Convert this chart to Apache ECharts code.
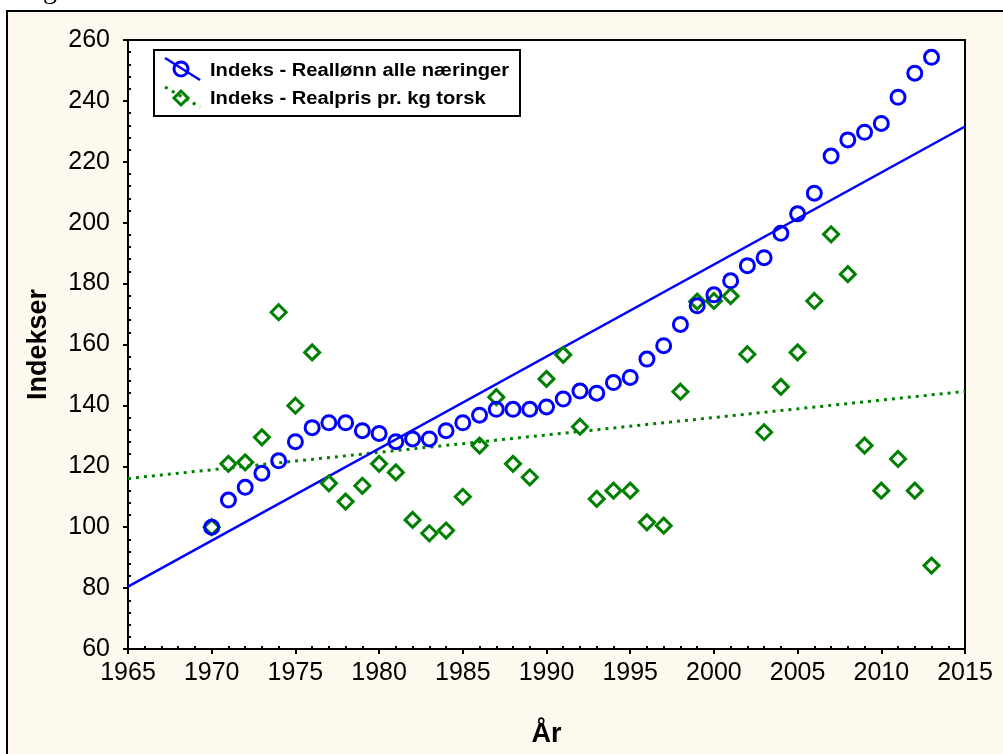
<!DOCTYPE html>
<html><head><meta charset="utf-8">
<script src="https://cdn.jsdelivr.net/npm/echarts@6/dist/echarts.min.js"></script>
<style>
html,body{margin:0;padding:0;background:#fff;overflow:hidden;}
#wrap{position:relative;width:1003px;height:754px;overflow:hidden;}
#frame{position:absolute;left:6px;top:10px;width:1100px;height:900px;border:2px solid #000;background:#FDF9EE;}
#c{position:absolute;left:0;top:0;width:1003px;height:754px;}
</style>
</head><body>
<div id="wrap"><div id="frame"></div><div id="c"></div></div>
<script>
const years = [1970,1971,1972,1973,1974,1975,1976,1977,1978,1979,1980,1981,1982,1983,1984,1985,1986,1987,1988,1989,1990,1991,1992,1993,1994,1995,1996,1997,1998,1999,2000,2001,2002,2003,2004,2005,2006,2007,2008,2009,2010,2011,2012,2013];
const reallonn = [100,108.9,113.1,117.7,121.8,128.1,132.7,134.3,134.3,131.7,130.8,128.1,129,129,131.7,134.3,136.8,138.7,138.7,138.7,139.5,142.1,144.7,144,147.5,149.2,155.2,159.6,166.6,172.7,176.3,180.9,185.9,188.5,196.5,202.9,209.7,221.9,227.2,229.7,232.6,241.2,249.1,254.3];
const torsk = [100,120.8,121.3,129.5,170.6,139.9,157.4,114.4,108.4,113.6,120.8,118,102.4,98,98.9,110,126.8,142.7,120.8,116.4,148.7,156.6,133,109.3,112,112,101.6,100.5,144.5,174.1,174.3,175.9,156.8,131.2,146.1,157.4,174.3,196.2,183.1,126.8,112,122.4,112,87.4];
const trendYears = [1965, 2015];
const trendReallonn = [80.5, 231.6];
const trendTorsk = [116, 144.6];
const seriesNames = ['Indeks - Reallønn alle næringer', 'Indeks - Realpris pr. kg torsk'];
const xName = 'År';
const yName = 'Indekser';

const BLUE = '#0000FF', GREEN = '#008000', FONT = '"Liberation Sans", Arial, sans-serif';
const pairs = (xs, ys) => xs.map((x, i) => [x, ys[i]]);

const chart = echarts.init(document.getElementById('c'), null, {renderer: 'canvas'});
const baseX = {type: 'value', min: 1965, max: 2015, interval: 5, splitLine: {show: false}};
const baseY = {type: 'value', min: 60, max: 260, interval: 20, splitLine: {show: false}};
chart.setOption({
  backgroundColor: 'transparent',
  animation: false,
  grid: {left: 128, top: 40, right: 38, bottom: 105, show: true, backgroundColor: '#fff', borderColor: '#000', borderWidth: 2},
  xAxis: [
    Object.assign({}, baseX, {
      position: 'bottom',
      axisLine: {lineStyle: {color: '#000', width: 2}},
      axisTick: {length: 5, lineStyle: {color: '#000', width: 2}},
      axisLabel: {color: '#000', fontSize: 25, fontFamily: FONT, margin: 12, formatter: v => String(v)},
      name: xName, nameLocation: 'middle', nameGap: 72,
      nameTextStyle: {color: '#000', fontSize: 27, fontWeight: 'bold', fontFamily: FONT}
    }),
    Object.assign({}, baseX, {
      position: 'bottom',
      axisLine: {show: false}, axisLabel: {show: false},
      axisTick: {show: false, inside: true},
      minorTick: {show: true, splitNumber: 5, length: 3, lineStyle: {color: '#000', width: 2}}
    })
  ],
  yAxis: [
    Object.assign({}, baseY, {
      position: 'left',
      axisLine: {lineStyle: {color: '#000', width: 2}},
      axisTick: {length: 5, lineStyle: {color: '#000', width: 2}},
      axisLabel: {color: '#000', fontSize: 25, fontFamily: FONT, margin: 18},
      name: yName, nameLocation: 'middle', nameGap: 76, nameRotate: 90,
      nameTextStyle: {color: '#000', fontSize: 27, fontWeight: 'bold', fontFamily: FONT}
    }),
    Object.assign({}, baseY, {
      position: 'left',
      axisLine: {show: false}, axisLabel: {show: false},
      axisTick: {show: false, inside: true},
      minorTick: {show: true, splitNumber: 5, length: 3, lineStyle: {color: '#000', width: 2}}
    })
  ],
  series: [
    {type: 'line', xAxisIndex: 0, yAxisIndex: 0, data: pairs(trendYears, trendTorsk), symbol: 'none',
     lineStyle: {color: GREEN, width: 3, type: [3, 5]}, z: 2},
    {type: 'line', xAxisIndex: 0, yAxisIndex: 0, data: pairs(trendYears, trendReallonn), symbol: 'none',
     lineStyle: {color: BLUE, width: 2.5}, z: 2},
    {type: 'scatter', name: seriesNames[1], xAxisIndex: 0, yAxisIndex: 0, data: pairs(years, torsk), symbol: 'diamond', symbolSize: 15,
     itemStyle: {color: 'transparent', borderColor: GREEN, borderWidth: 3, opacity: 1}, z: 3},
    {type: 'scatter', name: seriesNames[0], xAxisIndex: 0, yAxisIndex: 0, data: pairs(years, reallonn), symbol: 'circle', symbolSize: 14,
     itemStyle: {color: 'transparent', borderColor: BLUE, borderWidth: 3, opacity: 1}, z: 4}
  ],
  graphic: [
    {type: 'text', x: 43, y: 5, z: 100, style: {text: 'g', font: '28px "Liberation Serif"', fill: '#000', verticalAlign: 'bottom'}},
    {type: 'rect', z: 100, shape: {x: 154, y: 50, width: 366, height: 66}, style: {fill: '#fff', stroke: '#000', lineWidth: 2}},
    {type: 'line', z: 101, shape: {x1: 165, y1: 58, x2: 200, y2: 80}, style: {stroke: BLUE, lineWidth: 2.5}},
    {type: 'circle', z: 101, shape: {cx: 181, cy: 69, r: 7}, style: {fill: 'none', stroke: BLUE, lineWidth: 3}},
    {type: 'text', z: 101, x: 210, y: 71, scaleX: 1.12, style: {text: seriesNames[0], font: 'bold 18px ' + FONT, fill: '#000', verticalAlign: 'middle'}},
    {type: 'line', z: 101, shape: {x1: 165, y1: 87, x2: 200, y2: 107}, style: {stroke: GREEN, lineWidth: 3, lineDash: [3, 5]}},
    {type: 'polygon', z: 101, shape: {points: [[181, 91], [188, 98], [181, 105], [174, 98]]}, style: {fill: 'none', stroke: GREEN, lineWidth: 3}},
    {type: 'text', z: 101, x: 210, y: 99, scaleX: 1.12, style: {text: seriesNames[1], font: 'bold 18px ' + FONT, fill: '#000', verticalAlign: 'middle'}}
  ]
});
</script>
</body></html>
